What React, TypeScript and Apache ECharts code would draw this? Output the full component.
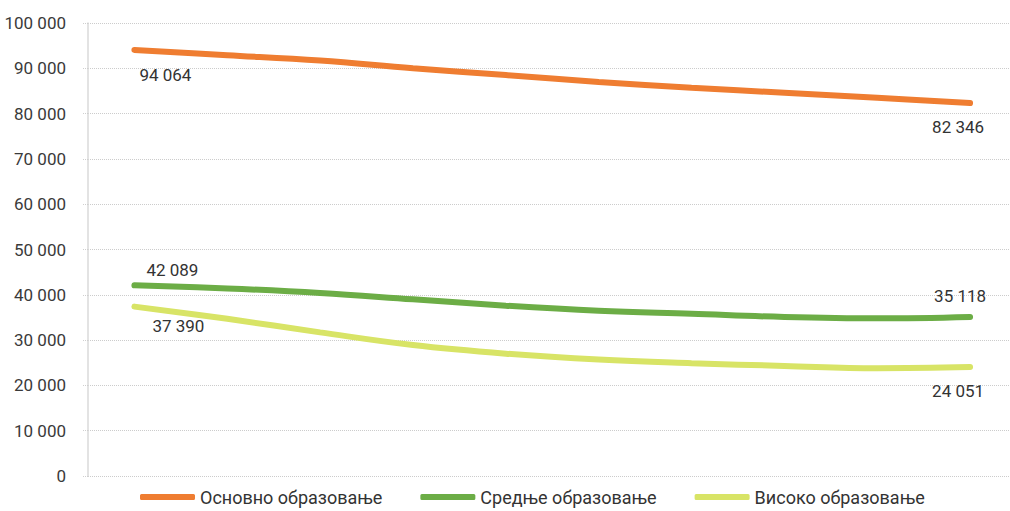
import React, { useEffect, useRef } from "react";
import * as echarts from "echarts";

const categories = ["2011", "2012", "2013", "2014", "2015", "2016", "2017", "2018", "2019", "2020"];
const seriesNames = ["Основно образовање", "Средње образовање", "Високо образовање"];
const osnovno = [94064, 92900, 91700, 90000, 88500, 87000, 85700, 84600, 83500, 82346];
const srednje = [42089, 41400, 40400, 39000, 37600, 36500, 35800, 35100, 34800, 35118];
const visoko = [37390, 34700, 31700, 28900, 27000, 25700, 24900, 24300, 23800, 24051];
const yTicks = [0, 10000, 20000, 30000, 40000, 50000, 60000, 70000, 80000, 90000, 100000];

const FONT = "Roboto, 'Liberation Sans', sans-serif";
const fmt = (v: number) => String(Math.round(v)).replace(/\B(?=(\d{3})+(?!\d))/g, " ");

export default function App() {
  const ref = useRef<HTMLDivElement>(null);
  useEffect(() => {
    document.body.style.margin = "0";
    if (!ref.current) return;
    const chart = echarts.init(ref.current, undefined, { renderer: "svg" });
    const mk = (
      name: string,
      values: number[],
      color: string,
      firstOff: [number, number],
      lastOff: [number, number]
    ) => ({
      name,
      type: "line",
      smooth: 0.4,
      symbol: "circle",
      symbolSize: 1,
      showSymbol: true,
      lineStyle: { width: 6, color, cap: "round" },
      itemStyle: { color },
      z: 3,
      data: values.map((v, i) => {
        const item: any = { value: [i, v], name: categories[i] };
        if (i === 0 || i === values.length - 1) {
          item.label = {
            show: true,
            position: "inside",
            offset: i === 0 ? firstOff : lastOff,
            formatter: () => fmt(v),
            fontFamily: FONT,
            fontSize: 17,
            color: "#333333",
          };
        }
        return item;
      }),
    });
    chart.setOption({
      animation: false,
      backgroundColor: "#ffffff",
      grid: { left: 88, right: 0, top: 23, bottom: 35, containLabel: false },
      xAxis: {
        type: "value",
        min: -0.5,
        max: 9.43,
        show: false,
      },
      yAxis: {
        type: "value",
        min: yTicks[0],
        max: yTicks[yTicks.length - 1],
        interval: 10000,
        axisLine: { show: true, onZero: false, lineStyle: { color: "#dadada", width: 1.5 } },
        axisTick: { show: true, length: 6, lineStyle: { color: "#cfcfcf", type: "dotted" } },
        splitLine: { show: true, lineStyle: { color: "#cccccc", type: "dotted", width: 1 } },
        axisLabel: {
          margin: 22,
          formatter: (v: number) => fmt(v),
          fontFamily: FONT,
          fontSize: 17,
          color: "#3a3a3a",
        },
      },
      legend: {
        top: 483,
        left: 135,
        itemWidth: 55,
        itemHeight: 6,
        itemGap: 38,
        icon: "roundRect",
        textStyle: { fontFamily: FONT, fontSize: 18, color: "#333333" },
        data: seriesNames,
      },
      series: [
        mk(seriesNames[0], osnovno, "#ef7d31", [31, 25], [-12, 24]),
        mk(seriesNames[1], srednje, "#6cad46", [38, -15], [-10, -21]),
        mk(seriesNames[2], visoko, "#d8e466", [44, 19], [-12, 24]),
      ],
    });
    return () => chart.dispose();
  }, []);
  return <div ref={ref} style={{ width: 1010, height: 511 }} />;
}
